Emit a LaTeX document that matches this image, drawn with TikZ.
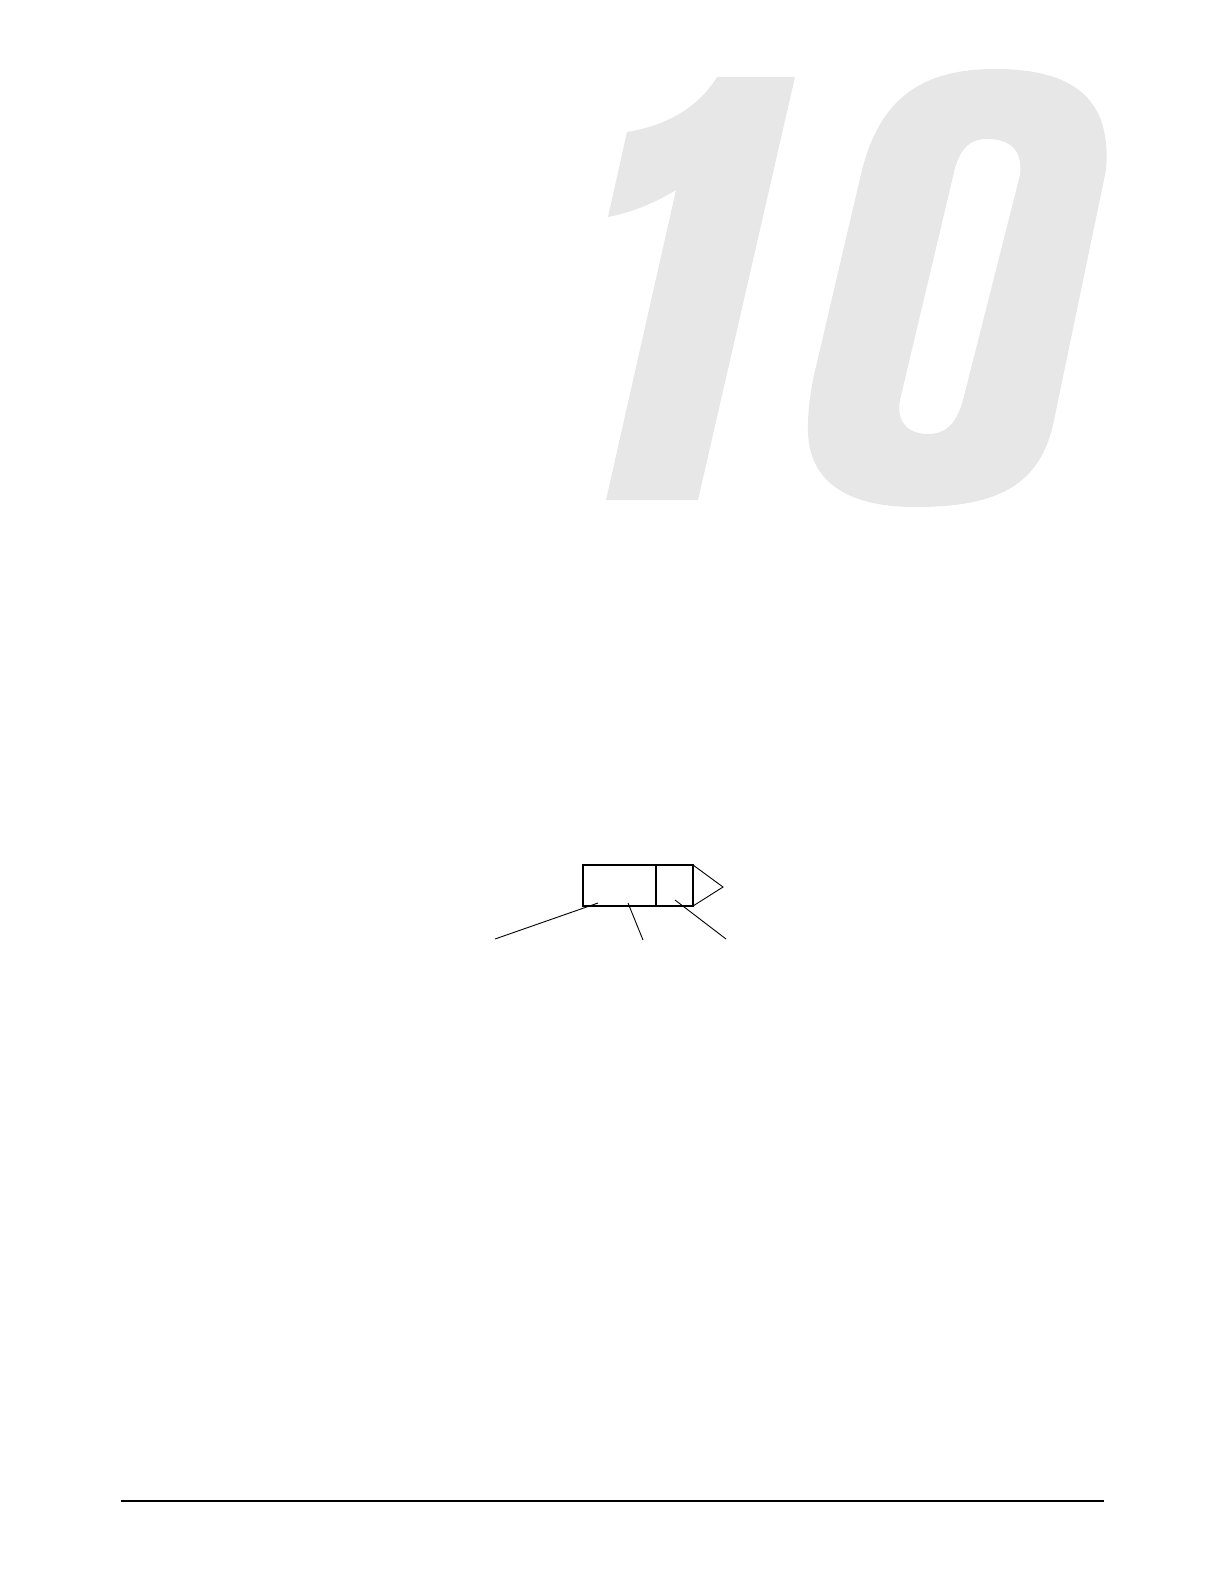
\documentclass[tikz,border=0pt]{standalone}
\definecolor{numgray}{RGB}{231,231,231}
\begin{document}
\begin{tikzpicture}[x=0.5pt,y=-0.5pt,
  bignum/.style={fill=numgray,draw=none,even odd rule},
  boxline/.style={draw=black,line width=0.75pt},
  leader/.style={draw=black,line width=0.45pt},
  rule/.style={draw=black,line width=1pt}]
\useasboundingbox (0,0) rectangle (1224,1584);
% big chapter number "1"
\path[bignum] (717,77) -- (795,77) -- (698,500) -- (606,500) -- (676,190)
  .. controls (655,203) and (630,213) .. (608,217) -- (627,132)
  .. controls (670,125) and (700,105) .. (717,77) -- cycle;
% big "0"
\path[bignum] (995,69) .. controls (1075,69) and (1112,100) .. (1106,170)
  -- (1053,425) .. controls (1038,490) and (990,507) .. (915,507)
  .. controls (845,507) and (806,480) .. (808,425)
  .. controls (808,410) and (810,395) .. (814,375)
  -- (862,170) .. controls (880,100) and (920,69) .. (995,69) -- cycle
  (987,139) .. controls (1010,139) and (1023,150) .. (1020,175) -- (963,400)
  .. controls (956,425) and (945,434) .. (928,434)
  .. controls (908,434) and (896,422) .. (900,400) -- (955,168)
  .. controls (961,148) and (970,139) .. (987,139) -- cycle;
% symbol
\coordinate (bl) at (583,906);
\coordinate (tr) at (693,865);
\coordinate (dt) at (656,865);
\coordinate (db) at (656,906);
\coordinate (tip) at (723,887);
\draw[boxline] (bl) rectangle (tr);
\draw[boxline] (dt) -- (db);
\draw[leader] (tr) -- (tip) -- (693,906);
% leader lines
\coordinate (a1) at (598,903);
\coordinate (a2) at (495,939);
\coordinate (b1) at (628,903);
\coordinate (b2) at (643,940);
\coordinate (c1) at (675,900);
\coordinate (c2) at (726,939);
\draw[leader] (a1) -- (a2);
\draw[leader] (b1) -- (b2);
\draw[leader] (c1) -- (c2);
% footer rule
\coordinate (r1) at (121,1501);
\coordinate (r2) at (1104,1501);
\draw[rule] (r1) -- (r2);
\end{tikzpicture}
\end{document}
